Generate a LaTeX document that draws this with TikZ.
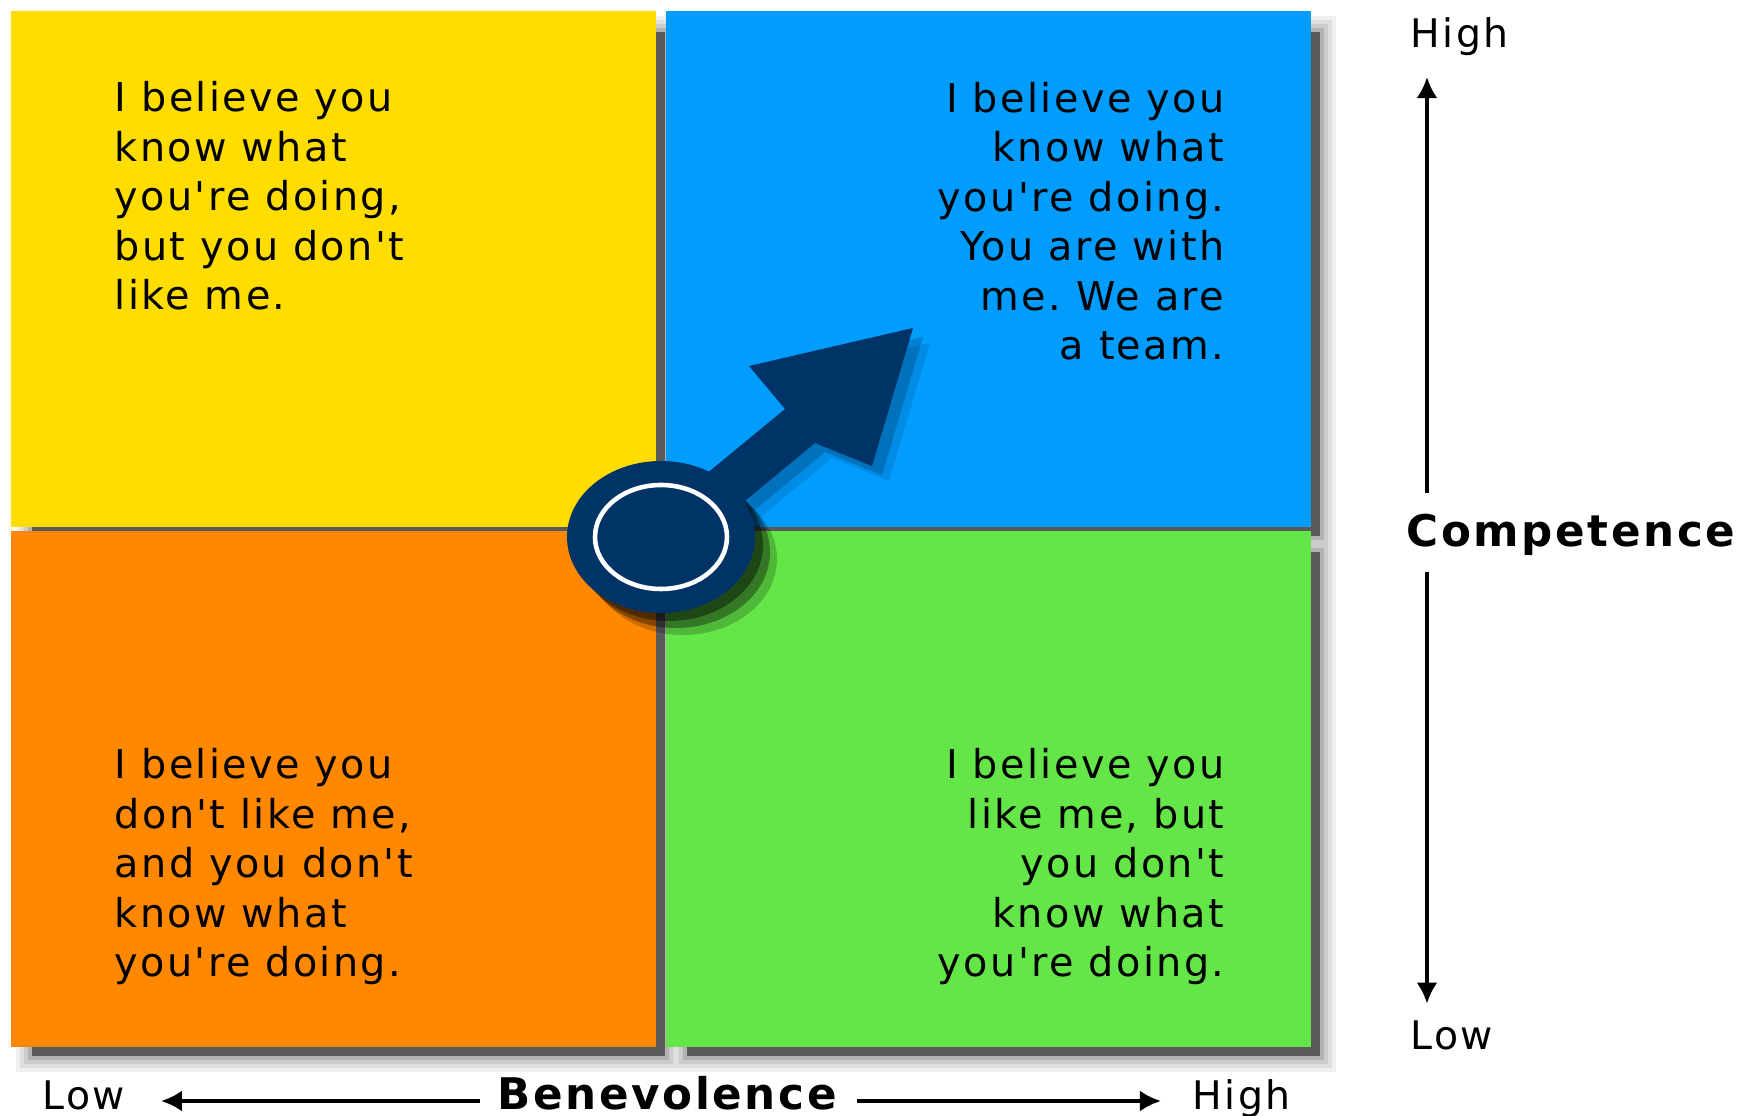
\documentclass[tikz,border=0pt]{standalone}
\usepackage{fontspec}
\setmainfont{DejaVu Sans}
\newfontfamily\quadfont[LetterSpace=6]{DejaVu Sans}
\usetikzlibrary{arrows.meta}
\frenchspacing

\definecolor{qyellow}{RGB}{255,221,0}
\definecolor{qblue}{RGB}{0,157,255}
\definecolor{qorange}{RGB}{255,136,0}
\definecolor{qgreen}{RGB}{100,230,72}
\definecolor{navy}{RGB}{0,51,102}
\definecolor{shadowgray}{RGB}{90,90,90}

\tikzset{
  quadtext/.style={font=\quadfont\fontsize{11.3}{14.08}\selectfont, inner sep=0pt},
  axislabel/.style={font=\quadfont\fontsize{11.2}{13}\selectfont, inner sep=0pt, anchor=base west},
  axistitle/.style={font=\quadfont\bfseries\fontsize{12.4}{14}\selectfont, inner sep=0pt, anchor=base west},
  axisline/.style={line width=1.2pt, -{Latex[length=6pt,width=6pt]}},
}

\begin{document}
\begin{tikzpicture}[x=0.01cm,y=-0.01cm]
\useasboundingbox (0,0) rectangle (1750,1116);

% soft shadow under the squares
\foreach \lo/\hi/\c in {5/25/gray!12, 9/21/gray!25, 13/17/gray!40, 17/13/gray!60, 21/9/shadowgray}{
  \foreach \xa/\ya/\xb/\yb in {11/11/656/527, 666/11/1311/527, 11/531/656/1047, 666/531/1311/1047}{
    \fill[\c] (\xa+\lo,\ya+\lo) rectangle (\xb+\hi,\yb+\hi);
  }
}

\fill[qyellow] (11,11) rectangle (656,527);
\fill[qblue] (666,11) rectangle (1311,527);
\fill[qorange] (11,531) rectangle (656,1047);
\fill[qgreen] (666,531) rectangle (1311,1047);

% gauge: shadows first
\foreach \dx/\dy/\op in {17/15/.1, 10/9/.18}{
  \fill[black, opacity=\op, shift={(\dx,\dy)}]
    (648,522) -- (785,409) -- (749,366) -- (913,328) -- (872,466) -- (815,443) -- (671,562) -- cycle;
}
\foreach \d/\op in {22/.2, 15/.35, 8/.4}{
  \fill[black, opacity=\op] (661+\d,537+\d) ellipse [x radius=94, y radius=76];
}
\fill[navy] (648,522) -- (785,409) -- (749,366) -- (913,328) -- (872,466) -- (815,443) -- (671,562) -- cycle;
\fill[navy] (661,537) ellipse [x radius=94, y radius=76];
\draw[white, line width=1.3pt] (661,537) ellipse [x radius=66, y radius=52];

% base anchor = last line
\node[quadtext, anchor=base west, align=left] (tl) at (114,310)
  {I believe you\\know what\\you're doing,\\but you don't\\like me.};
\node[quadtext, anchor=base east, align=right] (tr) at (1225,360)
  {I believe you\\know what\\you're doing.\\You are with\\me. We are\\a team.};
\node[quadtext, anchor=base west, align=left] (bl) at (114,977)
  {I believe you\\don't like me,\\and you don't\\know what\\you're doing.};
\node[quadtext, anchor=base east, align=right] (br) at (1225,977)
  {I believe you\\like me, but\\you don't\\know what\\you're doing.};

% competence axis
\node[axislabel] (chigh) at (1410,48) {High};
\node[axistitle] (comp) at (1406,547) {Competence};
\node[axislabel] (clow) at (1410,1050) {Low};
\coordinate (vaxis) at (1427,0);
\draw[axisline, shorten <=6pt, shorten >=5.7pt] (comp.north -| vaxis) -- (chigh.south -| vaxis);
\draw[axisline, shorten <=4.3pt, shorten >=4.8pt] (comp.south -| vaxis) -- (clow.north -| vaxis);

% benevolence axis
\node[axislabel] (blow) at (42,1110) {Low};
\node[axistitle] (benev) at (497,1110) {Benevolence};
\node[axislabel] (bhigh) at (1192,1110) {High};
\coordinate (haxis) at (0,1101);
\draw[axisline, shorten <=4.8pt, shorten >=10pt] (benev.west |- haxis) -- (blow.east |- haxis);
\draw[axisline, shorten <=5.7pt, shorten >=8.8pt] (benev.east |- haxis) -- (bhigh.west |- haxis);

\end{tikzpicture}
\end{document}
